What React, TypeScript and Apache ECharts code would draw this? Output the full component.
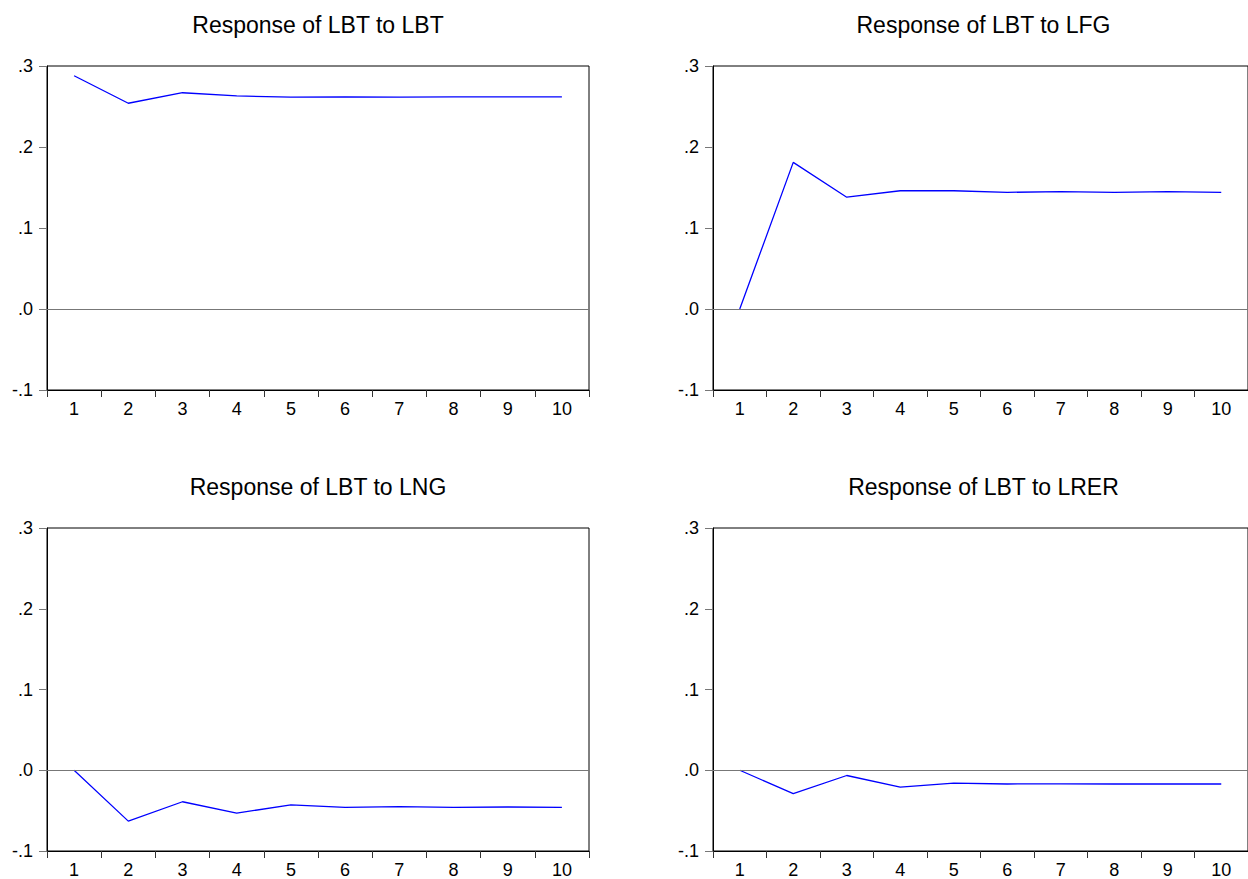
import React, { useEffect, useRef } from "react";
import * as echarts from "echarts";

const periods = ["1", "2", "3", "4", "5", "6", "7", "8", "9", "10"];
const titles = [
  "Response of LBT to LBT",
  "Response of LBT to LFG",
  "Response of LBT to LNG",
  "Response of LBT to LRER",
];
const lbtToLbt = [0.288, 0.254, 0.267, 0.263, 0.2615, 0.262, 0.2615, 0.262, 0.262, 0.262];
const lbtToLfg = [0.0, 0.181, 0.138, 0.146, 0.146, 0.144, 0.145, 0.144, 0.145, 0.144];
const lbtToLng = [0.0, -0.063, -0.039, -0.053, -0.043, -0.046, -0.045, -0.046, -0.0455, -0.046];
const lbtToLrer = [0.0, -0.029, -0.0065, -0.021, -0.016, -0.017, -0.0168, -0.017, -0.017, -0.017];
const yTicks = { min: -0.1, max: 0.3, interval: 0.1 };

const seriesData = [lbtToLbt, lbtToLfg, lbtToLng, lbtToLrer];

export default function App() {
  const ref = useRef<HTMLDivElement>(null);
  useEffect(() => {
    if (!ref.current) return;
    const chart = echarts.init(ref.current, null, { renderer: "svg" });
    const grids = [
      { left: 47, top: 66, width: 542, height: 324 },
      { left: 713, top: 66, width: 541, height: 324 },
      { left: 47, top: 528, width: 542, height: 324 },
      { left: 713, top: 528, width: 541, height: 324 },
    ];
    const font = "Liberation Sans, Arial, sans-serif";
    const fmt = (v: number) => {
      const s = v.toFixed(1);
      return s.replace("0.", ".");
    };
    chart.setOption({
      animation: false,
      backgroundColor: "#ffffff",
      title: titles.map((t, i) => ({
        text: t,
        left: grids[i].left + grids[i].width / 2,
        textAlign: "center",
        top: i < 2 ? 13 : 475,
        padding: 0,
        textStyle: { fontFamily: font, fontSize: 23, fontWeight: "normal", color: "#000", lineHeight: 24 },
      })),
      grid: grids.map((g) => ({
        ...g,
        show: true,
        borderColor: "#000",
        borderWidth: 1,
        backgroundColor: "#fff",
      })),
      xAxis: grids.map((_, i) => ({
        type: "category",
        gridIndex: i,
        data: periods,
        boundaryGap: true,
        axisLine: { show: true, onZero: false, lineStyle: { color: "#000", width: 1 } },
        axisTick: { show: true, length: 7, inside: false, lineStyle: { color: "#333" } },
        axisLabel: { fontFamily: font, fontSize: 18, color: "#000", margin: 10 },
        splitLine: { show: false },
      })),
      yAxis: grids.map((_, i) => ({
        type: "value",
        gridIndex: i,
        min: yTicks.min,
        max: yTicks.max,
        interval: yTicks.interval,
        axisLine: { show: true, lineStyle: { color: "#000", width: 1 } },
        axisTick: { show: true, length: 8, lineStyle: { color: "#777" } },
        axisLabel: { fontFamily: font, fontSize: 18, color: "#000", margin: 14, formatter: fmt },
        splitLine: { show: false },
      })),
      series: seriesData.map((d, i) => ({
        type: "line",
        xAxisIndex: i,
        yAxisIndex: i,
        data: d,
        showSymbol: false,
        symbol: "none",
        lineStyle: { color: "#0000ff", width: 1.3 },
        markLine: {
          silent: true,
          symbol: "none",
          label: { show: false },
          lineStyle: { color: "#777", type: "solid", width: 1 },
          data: [{ yAxis: 0 }],
        },
      })),
    });
    return () => chart.dispose();
  }, []);
  return (
    <div
      ref={ref}
      style={{ position: "absolute", left: 0, top: 0, width: 1248, height: 879, background: "#fff" }}
    />
  );
}
